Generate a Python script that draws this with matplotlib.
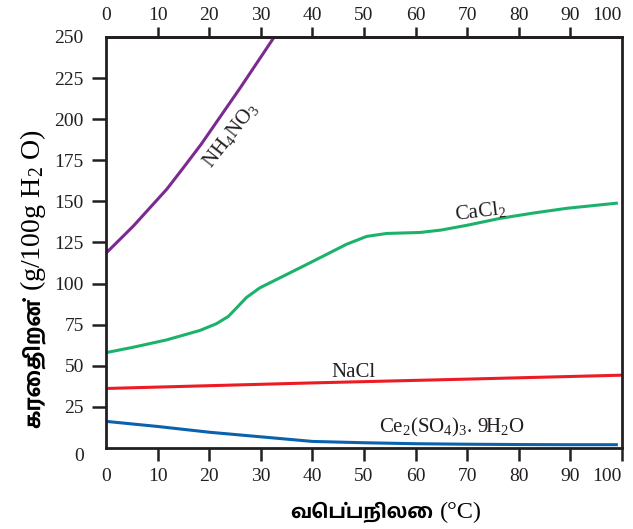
import matplotlib
matplotlib.use("Agg")
import matplotlib.pyplot as plt

plt.rcParams['font.family'] = ['Liberation Serif']
plt.rcParams['mathtext.fontset'] = 'custom'
plt.rcParams['mathtext.rm'] = 'Liberation Serif'
plt.rcParams['mathtext.it'] = 'Liberation Serif:italic'
plt.rcParams['mathtext.bf'] = 'Liberation Serif:bold'

# ---- data ----
nh4no3_t = [0, 5.3, 11.8, 15.0, 18.5, 22.8, 26.0, 29.3, 32.6]
nh4no3_s = [118.5, 135, 157.5, 170.5, 185, 204.5, 219, 234.5, 250]

cacl2_t = [0, 5.3, 11.8, 18.2, 21.4, 23.7, 25.3, 27.2, 29.8, 33.7, 40.2, 46.6,
           50.5, 54.4, 60.9, 65, 70, 76.4, 82.8, 89.3, 99.2]
cacl2_s = [58, 61.3, 65.8, 71.5, 75.6, 80, 85.2, 91.5, 97.4, 103.5, 113.7, 123.9,
           128.7, 130.5, 131.1, 132.6, 135.5, 139.7, 142.9, 145.8, 149]

nacl_t = [0, 40, 70, 100]
nacl_s = [36.2, 39.6, 41.9, 44.3]

ce_t = [0, 10, 20, 30, 40, 50, 60, 70, 80, 90, 99.2]
ce_s = [16.2, 13.1, 9.6, 6.8, 4.0, 3.2, 2.6, 2.3, 2.1, 2.0, 2.0]

x_ticks = [0, 10, 20, 30, 40, 50, 60, 70, 80, 90, 100]
y_ticks = [0, 25, 50, 75, 100, 125, 150, 175, 200, 225, 250]

curve_names = [r"NH$_4$NO$_3$", r"CaCl$_2$", "NaCl", r"Ce$_2$(SO$_4$)$_3$. 9H$_2$O"]

ylabel_ta = "கரைதிறன்"
ylabel_unit = r"(g/100g H$_2$ O)"
xlabel_ta = "வெப்பநிலை"
xlabel_unit = "(°C)"

W, H = 633, 529
fig = plt.figure(figsize=(W/100, H/100), dpi=100)
ax = fig.add_axes([106/W, 1-448/H, (622-106)/W, (448-37)/H])

lw = 2.2
ax.plot(nh4no3_t, nh4no3_s, color='#7a2a90', lw=lw, solid_capstyle='butt')
ax.plot(cacl2_t, cacl2_s, color='#1db26b', lw=lw, solid_capstyle='butt')
ax.plot(nacl_t, nacl_s, color='#ec1c24', lw=lw, solid_capstyle='butt')
ax.plot(ce_t, ce_s, color='#0a62ad', lw=lw, solid_capstyle='butt')

ax.set_xlim(0, 100)
ax.set_ylim(0, 250)
dark = '#231f20'
for sp in ax.spines.values():
    sp.set_linewidth(2.0)
    sp.set_color(dark)

ax.set_xticks(x_ticks)
ax.set_yticks(y_ticks)
ax.tick_params(axis='x', top=False, labeltop=False, bottom=True,
               direction='out', length=9.5, width=1.8, color=dark,
               labelsize=14, pad=5, labelcolor=dark)
ax.tick_params(axis='y', direction='out', length=10, width=1.8, color=dark,
               labelsize=14, pad=6, labelcolor=dark)

sec = ax.secondary_xaxis('top')
sec.set_xticks(x_ticks)
sec.tick_params(axis='x', direction='out', length=7.5, width=1.8, color=dark,
                labelsize=14, pad=2, labelcolor=dark)
sec.spines['top'].set_linewidth(2.0)
sec.spines['top'].set_color(dark)

# corner ticks hidden (spines occupy them)
yt = ax.yaxis.get_major_ticks()
yt[0].tick1line.set_visible(False)
yt[-1].tick1line.set_visible(False)
xt = ax.xaxis.get_major_ticks()
xt[0].tick1line.set_visible(False)
st = sec.xaxis.get_major_ticks()
st[0].tick2line.set_visible(False)
st[-1].tick2line.set_visible(False)
st[0].tick1line.set_visible(False)
st[-1].tick1line.set_visible(False)

fig.canvas.draw()
# keep the "100" labels inside the figure, as in the reference
ax.get_xticklabels()[-1].set_horizontalalignment('right')
sec.get_xticklabels()[-1].set_horizontalalignment('right')
# the "0" on the y axis sits a little below the corner
ax.yaxis.get_major_ticks()[0].label1.set_verticalalignment('top')

# curve labels
ax.text(24.2, 190.5, curve_names[0], rotation=52, ha='center', va='center',
        fontsize=15, color=dark, rotation_mode='anchor')
ax.text(72.5, 144, curve_names[1], rotation=7, ha='center', va='center',
        fontsize=15, color=dark, rotation_mode='anchor')
ax.text(48, 46, curve_names[2], ha='center', va='center', fontsize=15, color=dark)
ax.text(67, 12.5, curve_names[3], ha='center', va='center', fontsize=15, color=dark)

# axis labels
t1 = fig.text(33/W, 1-428/H, ylabel_ta, rotation=90, ha='center', va='bottom',
              fontsize=17, fontweight='bold', family=['Hind Madurai'], color='black')
t1u = ax.annotate(ylabel_unit, xy=(0.5, 1), xycoords=t1, xytext=(0, 5),
                  textcoords='offset points', rotation=90, ha='center', va='bottom',
                  fontsize=14, color='black', annotation_clip=False)
t2 = fig.text(290/W, 1-512/H, xlabel_ta, ha='left', va='center',
              fontsize=17, fontweight='bold', family=['Hind Madurai'], color='black')
t2u = ax.annotate(xlabel_unit, xy=(1, 0.5), xycoords=t2, xytext=(5, 0),
                  textcoords='offset points', ha='left', va='center',
                  fontsize=15, color='black', annotation_clip=False)

# fit label sizes to the reference lengths (pixels)
targets = [(t1, 130, 'h'), (t1u, 162, 'h'), (t2, 143, 'w'), (t2u, 42, 'w')]
for _ in range(3):
    fig.canvas.draw()
    r = fig.canvas.get_renderer()
    for t, tgt, dim in targets:
        bb = t.get_window_extent(r)
        cur = bb.height if dim == 'h' else bb.width
        t.set_fontsize(t.get_fontsize() * tgt / cur)

fig.savefig("out.png", dpi=100)
